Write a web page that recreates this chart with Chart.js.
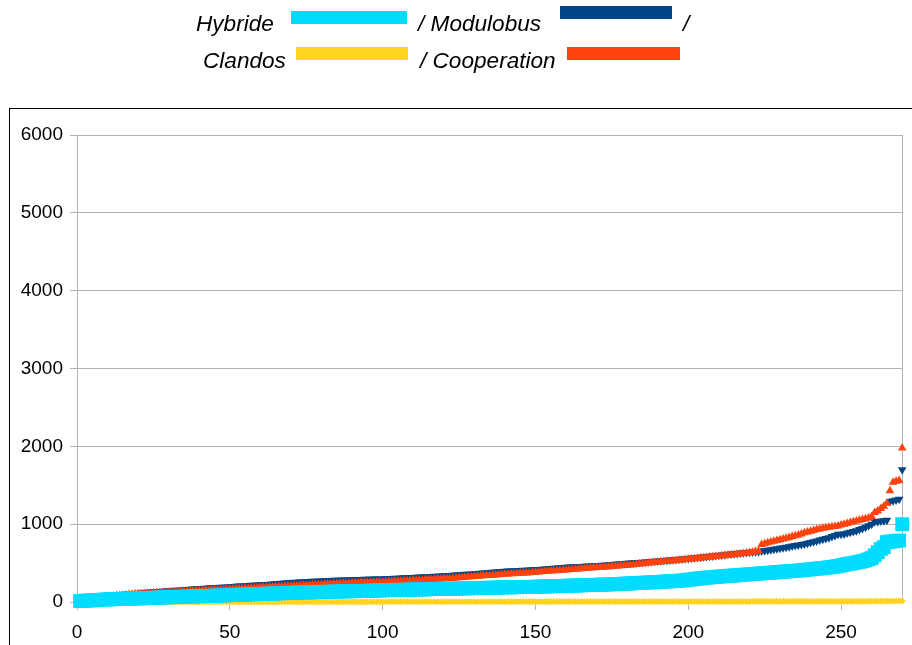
<!DOCTYPE html>
<html>
<head>
<meta charset="utf-8">
<script src="https://cdn.jsdelivr.net/npm/chart.js@4.4.0/dist/chart.umd.min.js"></script>
<style>
  body { margin: 0; background: #fff; }
  #wrap { position: relative; width: 912px; height: 645px; overflow: hidden; }
  #frame { position: absolute; left: 9px; top: 108px; width: 930px; height: 600px; border: 1px solid #000; }
  .lg { position: absolute; font: italic 22.6px "Liberation Sans", Arial, sans-serif; line-height: 22px; color: #000; white-space: nowrap; }
  .bar { position: absolute; height: 13px; }
  canvas { position: absolute; left: 0; top: 0; }
</style>
</head>
<body>
<div id="wrap">
  <div id="frame"></div>
  <canvas id="myChart" width="912" height="645"></canvas>
  <span class="lg" style="left:196px; top:13px;">Hybride</span>
  <div class="bar" style="left:291px; top:11px; width:116px; background:#00dcff;"></div>
  <span class="lg" style="left:418px; top:13px;">/ Modulobus</span>
  <div class="bar" style="left:560px; top:6px; width:112px; background:#004586;"></div>
  <span class="lg" style="left:683px; top:13px;">/</span>
  <span class="lg" style="left:203px; top:50px;">Clandos</span>
  <div class="bar" style="left:296px; top:47px; width:112px; background:#ffd320;"></div>
  <span class="lg" style="left:420px; top:50px;">/ Cooperation</span>
  <div class="bar" style="left:567px; top:47px; width:113px; background:#ff420e;"></div>
</div>
<script>
const ctx = document.getElementById('myChart').getContext('2d');

// values, sorted, one per rank 1..270
const hybride = [
  12, 15, 18, 20, 22, 25, 27, 29, 31, 33,
  35, 36, 38, 40, 41, 42, 43, 44, 45, 46,
  48, 49, 51, 52, 54, 55, 57, 58, 60, 61,
  62, 64, 65, 66, 68, 69, 70, 72, 73, 74,
  76, 77, 78, 80, 81, 82, 84, 85, 87, 88,
  90, 91, 93, 94, 96, 97, 99, 100, 102, 103,
  104, 106, 107, 109, 110, 111, 113, 114, 115, 116,
  118, 119, 120, 122, 123, 124, 125, 126, 127, 129,
  130, 131, 132, 133, 134, 135, 136, 137, 138, 139,
  140, 141, 142, 143, 144, 145, 146, 147, 148, 150,
  151, 152, 153, 154, 155, 156, 157, 158, 159, 160,
  161, 162, 162, 163, 164, 165, 166, 167, 168, 169,
  170, 171, 172, 173, 174, 175, 176, 176, 177, 178,
  179, 180, 181, 182, 183, 184, 185, 186, 187, 188,
  189, 189, 190, 191, 192, 193, 193, 194, 195, 196,
  197, 198, 200, 201, 202, 203, 205, 206, 207, 208,
  210, 211, 212, 213, 215, 216, 217, 218, 220, 221,
  222, 223, 225, 226, 228, 229, 231, 233, 235, 237,
  239, 241, 243, 245, 247, 249, 251, 253, 255, 257,
  259, 262, 264, 266, 268, 271, 273, 276, 280, 285,
  290, 295, 300, 304, 308, 312, 316, 320, 323, 326,
  329, 332, 335, 338, 341, 344, 347, 350, 353, 356,
  359, 362, 365, 368, 371, 374, 377, 380, 383, 386,
  389, 392, 395, 398, 401, 404, 408, 412, 416, 420,
  424, 428, 432, 436, 440, 445, 450, 455, 462, 470,
  478, 486, 494, 500, 508, 516, 525, 535, 548, 565,
  600, 640, 680, 705, 770, 775, 780, 785, 790, 1000
];

const modulobus = [
  20, 28, 35, 42, 48, 54, 60, 65, 70, 74,
  78, 82, 86, 90, 94, 98, 102, 106, 110, 113,
  117, 120, 124, 127, 130, 133, 136, 139, 142, 145,
  147, 150, 152, 155, 157, 160, 163, 166, 169, 172,
  175, 177, 180, 182, 184, 186, 189, 191, 194, 197,
  199, 202, 204, 206, 209, 211, 214, 216, 218, 221,
  223, 226, 228, 231, 234, 237, 240, 243, 246, 250,
  253, 255, 257, 259, 261, 263, 265, 267, 269, 271,
  273, 275, 276, 278, 279, 281, 282, 284, 285, 287,
  288, 289, 290, 291, 292, 293, 294, 295, 295, 296,
  298, 300, 302, 304, 306, 308, 310, 312, 314, 316,
  318, 320, 322, 324, 326, 328, 330, 332, 334, 336,
  338, 340, 343, 346, 349, 352, 355, 358, 361, 364,
  367, 370, 373, 376, 379, 382, 385, 388, 391, 394,
  397, 399, 401, 403, 405, 407, 409, 411, 413, 416,
  419, 422, 425, 428, 431, 434, 437, 440, 443, 446,
  449, 451, 453, 455, 457, 459, 461, 463, 465, 467,
  470, 473, 476, 479, 482, 485, 488, 491, 494, 497,
  500, 503, 506, 509, 512, 515, 518, 521, 524, 527,
  530, 533, 536, 539, 542, 546, 550, 554, 557, 560,
  564, 568, 572, 576, 580, 584, 588, 592, 596, 600,
  604, 608, 612, 616, 620, 624, 628, 632, 636, 640,
  643, 646, 650, 655, 660, 665, 671, 677, 683, 690,
  697, 704, 711, 718, 725, 732, 738, 745, 755, 765,
  775, 785, 795, 805, 815, 825, 840, 855, 870, 872,
  875, 885, 895, 905, 915, 930, 945, 960, 980, 1000,
  1030, 1035, 1040, 1045, 1050, 1290, 1300, 1310, 1320, 1700
];

const clandos = [
  0, 0, 0, 0, 0, 0, 0, 0, 0, 0,
  0, 0, 0, 0, 0, 0, 0, 0, 0, 0,
  0, 0, 0, 0, 0, 0, 0, 0, 0, 0,
  1, 1, 1, 1, 1, 1, 1, 1, 1, 1,
  1, 1, 1, 1, 1, 1, 1, 1, 1, 1,
  1, 1, 1, 1, 1, 1, 1, 1, 1, 1,
  2, 2, 2, 2, 2, 2, 2, 2, 2, 2,
  2, 2, 2, 2, 2, 2, 2, 2, 2, 2,
  2, 2, 2, 2, 2, 2, 2, 2, 2, 2,
  2, 2, 2, 2, 2, 2, 2, 2, 2, 2,
  3, 3, 3, 3, 3, 3, 3, 3, 3, 3,
  3, 3, 3, 3, 3, 3, 3, 3, 3, 3,
  3, 3, 3, 3, 3, 3, 3, 3, 3, 3,
  3, 3, 3, 3, 3, 3, 3, 3, 3, 3,
  4, 4, 4, 4, 4, 4, 4, 4, 4, 4,
  4, 4, 4, 4, 4, 4, 4, 4, 4, 4,
  4, 4, 4, 4, 4, 4, 4, 4, 4, 4,
  5, 5, 5, 5, 5, 5, 5, 5, 5, 5,
  5, 5, 5, 5, 5, 5, 5, 5, 5, 5,
  5, 5, 5, 5, 5, 5, 5, 5, 5, 5,
  6, 6, 6, 6, 6, 6, 6, 6, 6, 6,
  6, 6, 6, 6, 6, 6, 6, 6, 6, 6,
  7, 7, 7, 7, 7, 7, 7, 7, 7, 7,
  7, 7, 7, 7, 7, 7, 7, 7, 7, 7,
  8, 8, 8, 8, 8, 8, 8, 8, 8, 8,
  9, 9, 9, 9, 9, 9, 9, 9, 10, 10,
  10, 10, 11, 11, 11, 12, 12, 13, 14, 15
];

const cooperation = [
  8, 15, 22, 30, 37, 44, 50, 56, 61, 66,
  71, 75, 79, 83, 87, 91, 95, 99, 102, 105,
  108, 110, 112, 114, 116, 118, 120, 122, 124, 126,
  128, 130, 132, 134, 136, 138, 140, 142, 144, 146,
  148, 150, 152, 154, 156, 158, 160, 162, 164, 166,
  168, 170, 172, 174, 176, 178, 180, 182, 184, 186,
  188, 190, 192, 194, 196, 198, 200, 202, 204, 206,
  208, 210, 212, 214, 216, 218, 220, 222, 224, 226,
  228, 230, 232, 234, 236, 238, 240, 242, 244, 246,
  248, 250, 251, 252, 253, 254, 255, 256, 257, 258,
  260, 262, 264, 266, 268, 270, 272, 274, 276, 278,
  280, 282, 284, 286, 288, 290, 292, 294, 296, 298,
  300, 303, 306, 309, 312, 315, 318, 321, 324, 327,
  330, 333, 336, 339, 342, 345, 348, 351, 354, 357,
  360, 362, 364, 366, 368, 370, 373, 376, 379, 382,
  385, 388, 391, 394, 397, 400, 403, 406, 409, 412,
  415, 418, 421, 424, 427, 430, 433, 436, 439, 442,
  445, 448, 451, 454, 457, 460, 463, 466, 469, 472,
  476, 480, 484, 488, 492, 496, 500, 504, 508, 512,
  516, 519, 522, 525, 529, 533, 537, 541, 545, 549,
  553, 557, 561, 565, 569, 573, 577, 581, 585, 589,
  593, 597, 601, 605, 609, 613, 618, 623, 628, 634,
  640, 648, 656, 740, 750, 760, 770, 780, 790, 800,
  810, 820, 830, 840, 850, 862, 875, 890, 900, 910,
  920, 930, 938, 946, 954, 960, 966, 970, 975, 990,
  1000, 1010, 1020, 1030, 1040, 1050, 1060, 1070, 1080, 1100,
  1150, 1170, 1200, 1230, 1270, 1430, 1540, 1550, 1560, 1980
];

const xTicks = [0, 50, 100, 150, 200, 250];
const yTicks = [0, 1000, 2000, 3000, 4000, 5000, 6000];

// rank on the x axis is just the position in the list
function toPoints(values) {
  return values.map((v, i) => ({ x: i + 1, y: v }));
}

const gridColor = '#b3b3b3';

// gray box round the plot area
const plotBox = {
  id: 'plotBox',
  beforeDatasetsDraw(chart) {
    const a = chart.chartArea;
    const c = chart.ctx;
    c.save();
    c.strokeStyle = gridColor;
    c.lineWidth = 1;
    c.strokeRect(Math.round(a.left) + 0.5, Math.round(a.top) + 0.5, Math.round(a.right - a.left), Math.round(a.bottom - a.top));
    c.restore();
  }
};

let myChart = new Chart(ctx, {
  type: 'scatter',
  data: {
    datasets: [{
      label: 'Hybride',
      data: toPoints(hybride),
      backgroundColor: '#00dcff',
      borderWidth: 0,
      pointStyle: 'rect',
      pointRadius: 9.8,
      clip: false,
      order: 0
    }, {
      label: 'Modulobus',
      data: toPoints(modulobus),
      backgroundColor: '#004586',
      borderWidth: 0,
      pointStyle: 'triangle',
      rotation: 180,
      pointRadius: 5,
      clip: false,
      order: 2
    }, {
      label: 'Clandos',
      data: toPoints(clandos),
      backgroundColor: '#ffd320',
      borderWidth: 0,
      pointStyle: 'rectRot',
      pointRadius: 3.6,
      clip: false,
      order: 3
    }, {
      label: 'Cooperation',
      data: toPoints(cooperation),
      backgroundColor: '#ff420e',
      borderWidth: 0,
      pointStyle: 'triangle',
      pointRadius: 5,
      clip: false,
      order: 1
    }]
  },
  options: {
    responsive: false,
    animation: false,
    events: [],
    layout: {
      padding: { left: 0, top: 135, right: 9, bottom: 0 }
    },
    plugins: {
      legend: { display: false },
      tooltip: { enabled: false }
    },
    elements: {
      point: { hoverRadius: 0 }
    },
    scales: {
      x: {
        type: 'linear',
        min: 0,
        max: 270,
        afterFit: (s) => { s.height = 43; },
        afterBuildTicks: (s) => { s.ticks = xTicks.map(v => ({ value: v })); },
        grid: { drawOnChartArea: false, color: gridColor, tickLength: 8 },
        border: { color: gridColor },
        ticks: {
          color: '#000',
          padding: 11,
          font: { family: 'Liberation Sans', size: 19 },
          maxRotation: 0,
          callback: (v) => String(v)
        }
      },
      y: {
        min: 0,
        max: 6000,
        afterFit: (s) => { s.width = 77; },
        afterBuildTicks: (s) => { s.ticks = yTicks.map(v => ({ value: v })); },
        grid: { color: gridColor, tickLength: 7 },
        border: { color: gridColor },
        ticks: {
          color: '#000',
          padding: 7,
          font: { family: 'Liberation Sans', size: 19 },
          callback: (v) => String(v)
        }
      }
    }
  },
  plugins: [plotBox]
});
</script>
</body>
</html>
